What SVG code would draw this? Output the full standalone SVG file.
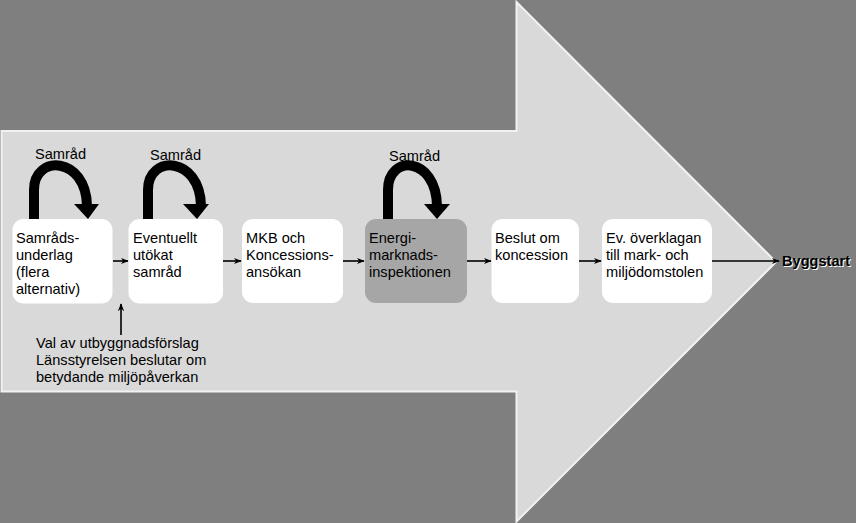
<svg xmlns="http://www.w3.org/2000/svg" width="856" height="523" viewBox="0 0 856 523">
<defs>
<style>
.t{font-family:"Liberation Sans",Arial,sans-serif;font-size:14.6px;fill:#000}
.box{fill:#fff}
.curve{fill:none;stroke:#000;stroke-width:10}
.line{fill:none;stroke:#000;stroke-width:1.6}
.bs{font-family:"Liberation Sans",Arial,sans-serif;font-size:14.6px;font-weight:bold}
</style>
<marker id="ah" viewBox="0 0 10 10" refX="9" refY="5" markerWidth="8" markerHeight="8" markerUnits="userSpaceOnUse" orient="auto">
<path d="M0,1 L10,5 L0,9 L3,5 Z" fill="#000"/>
</marker>
</defs>
<rect width="856" height="523" fill="#7f7f7f"/>
<g id="big-arrow">
<path d="M1.5,131 L516.5,131 L516.5,2 L776,262 L516.5,521.5 L516.5,391.5 L1.5,391.5 Z" fill="#d9d9d9" stroke="#f2f2f2" stroke-width="2"/>
</g>
<g id="connectors">
<line class="line" x1="113" y1="261" x2="128" y2="261" marker-end="url(#ah)"/>
<line class="line" x1="223" y1="261" x2="241" y2="261" marker-end="url(#ah)"/>
<line class="line" x1="343" y1="261" x2="364" y2="261" marker-end="url(#ah)"/>
<line class="line" x1="467" y1="261" x2="491" y2="261" marker-end="url(#ah)"/>
<line class="line" x1="579" y1="261" x2="601" y2="261" marker-end="url(#ah)"/>
<line class="line" x1="712" y1="261" x2="779" y2="261" marker-end="url(#ah)"/>
<line class="line" x1="121" y1="335" x2="121" y2="304" marker-end="url(#ah)"/>
<g id="loop1">
<path class="curve" d="M34,219 L34,190 C34,154 86,156 87,206"/>
<polygon points="74,204 99,204 88,219"/>
</g>
<g id="loop2">
<path class="curve" d="M148,219 L148,190 C148,154 200,156 201,206"/>
<polygon points="183,204 209,204 197,219"/>
</g>
<g id="loop3">
<path class="curve" d="M388,219 L388,190 C388,154 436,156 437,206"/>
<polygon points="424,204 450,204 437,219"/>
</g>
<text class="t" x="35" y="159">Samråd</text>
<text class="t" x="150" y="160">Samråd</text>
<text class="t" x="389" y="161">Samråd</text>
</g>
<g id="n1">
<rect class="box" x="12.5" y="219" width="100" height="84.5" rx="11"/>
<text class="t" x="16" y="243">Samråds-</text>
<text class="t" x="16" y="260">underlag</text>
<text class="t" x="16" y="277">(flera</text>
<text class="t" x="16" y="294">alternativ)</text>
</g>
<g id="n2">
<rect class="box" x="128.5" y="219" width="94.5" height="84.5" rx="11"/>
<text class="t" x="133" y="243">Eventuellt</text>
<text class="t" x="133" y="260">utökat</text>
<text class="t" x="133" y="277">samråd</text>
</g>
<g id="n3">
<rect class="box" x="242" y="219" width="101" height="84" rx="11"/>
<text class="t" x="246" y="243">MKB och</text>
<text class="t" x="246" y="260">Koncessions-</text>
<text class="t" x="246" y="277">ansökan</text>
</g>
<g id="n4">
<rect x="365" y="219" width="102" height="84" rx="11" fill="#a6a6a6"/>
<text class="t" x="369" y="243">Energi-</text>
<text class="t" x="369" y="260">marknads-</text>
<text class="t" x="369" y="277">inspektionen</text>
</g>
<g id="n5">
<rect class="box" x="491.5" y="219" width="87.5" height="84" rx="11"/>
<text class="t" x="495" y="243">Beslut om</text>
<text class="t" x="495" y="260">koncession</text>
</g>
<g id="n6">
<rect class="box" x="602" y="219" width="110" height="84" rx="11"/>
<text class="t" x="606" y="243">Ev. överklagan</text>
<text class="t" x="606" y="260">till mark- och</text>
<text class="t" x="606" y="277">miljödomstolen</text>
</g>
<g id="note">
<text class="t" x="36" y="348">Val av utbyggnadsförslag</text>
<text class="t" x="36" y="365">Länsstyrelsen beslutar om</text>
<text class="t" x="36" y="382">betydande miljöpåverkan</text>
</g>
<g id="byggstart">
<text class="bs" x="783" y="267" fill="#fff">Byggstart</text>
<text class="bs" x="782" y="266" fill="#000">Byggstart</text>
</g>
</svg>
